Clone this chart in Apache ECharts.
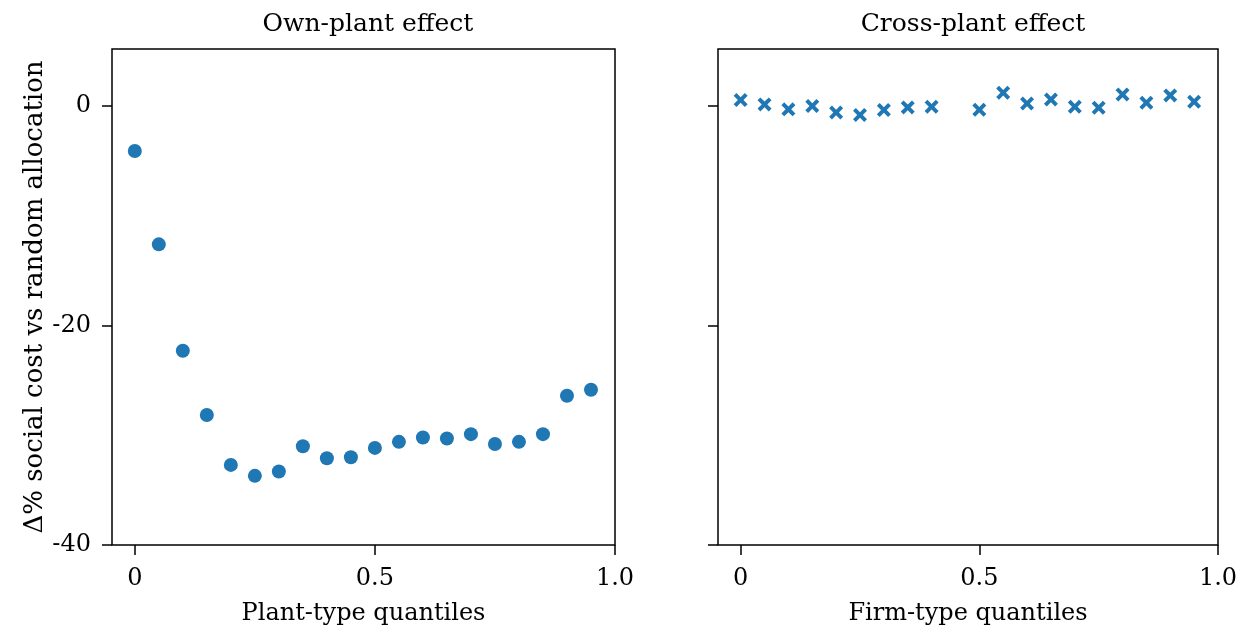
<!DOCTYPE html>
<html>
<head>
    <meta charset="utf-8">
    <title>Own-plant vs cross-plant effect</title>
    <script src="https://cdn.jsdelivr.net/npm/echarts@6/dist/echarts.min.js"></script>
    <style>
        body { margin: 0; background: #fff; }
    </style>
</head>
<body>
    <div id="main" style="width: 1241px;height:632px;"></div>

    <script type="text/javascript">
        // data
        var quantiles = [0, 0.05, 0.1, 0.15, 0.2, 0.25, 0.3, 0.35, 0.4, 0.45,
                         0.5, 0.55, 0.6, 0.65, 0.7, 0.75, 0.8, 0.85, 0.9, 0.95];
        var ownEffect = [-4.1, -12.6, -22.3, -28.15, -32.7, -33.7, -33.3, -31.0, -32.1, -32.0,
                         -31.15, -30.6, -30.2, -30.3, -29.9, -30.8, -30.6, -29.9, -26.4, -25.85];
        var crossEffect = [0.55, 0.15, -0.3, 0.0, -0.58, -0.82, -0.36, -0.12, -0.06, null,
                           -0.33, 1.21, 0.24, 0.6, -0.06, -0.15, 1.06, 0.3, 0.97, 0.39];
        var xTicks = [0, 0.5, 1];
        var yTicks = [-40, -20, 0];
        var panelTitles = ['Own-plant effect', 'Cross-plant effect'];
        var xNames = ['Plant-type quantiles', 'Firm-type quantiles'];
        var yName = '\u0394% social cost vs random allocation';

        function pairs(ys) {
            var out = [];
            for (var i = 0; i < quantiles.length; i++) {
                if (ys[i] !== null) out.push([quantiles[i], ys[i]]);
            }
            return out;
        }

        var font = 'DejaVu Serif';
        var blue = '#1f77b4';
        // thick x marker
        var crossPath = 'path://M0,2 L2,0 L5,3 L8,0 L10,2 L7,5 L10,8 L8,10 L5,7 L2,10 L0,8 L3,5 Z';

        function xAxis(idx) {
            return {
                type: 'value',
                gridIndex: idx,
                min: -0.0475,
                max: 1.0,
                name: xNames[idx],
                nameLocation: 'middle',
                nameGap: 57,
                nameTextStyle: { fontFamily: font, fontSize: 24, color: '#000' },
                splitLine: { show: false },
                axisLine: { show: false, onZero: false },
                axisTick: { show: true, length: 10, customValues: xTicks, lineStyle: { color: '#000', width: 1.5 } },
                axisLabel: {
                    customValues: xTicks,
                    margin: 22,
                    fontFamily: font, fontSize: 24, color: '#000',
                    formatter: function (v) { return v === 1 ? '1.0' : String(v); }
                }
            };
        }

        function yAxis(idx) {
            return {
                type: 'value',
                gridIndex: idx,
                min: -40,
                max: 5.2,
                name: idx === 0 ? yName : '',
                nameLocation: 'middle',
                nameGap: 61,
                nameTextStyle: { fontFamily: font, fontSize: 26, color: '#000' },
                splitLine: { show: false },
                axisLine: { show: false, onZero: false },
                axisTick: { show: true, length: 10, customValues: yTicks, lineStyle: { color: '#000', width: 1.5 } },
                axisLabel: {
                    show: idx === 0,
                    customValues: yTicks,
                    margin: 21,
                    fontFamily: font, fontSize: 24, color: '#000',
                    formatter: function (v) { return String(v); }
                }
            };
        }

        var myChart = echarts.init(document.getElementById('main'));

        var titleStyle = { fontFamily: font, fontSize: 25, fontWeight: 'normal', color: '#000' };

        var option = {
            animation: false,
            backgroundColor: '#fff',
            title: [
                { text: panelTitles[0], left: 363, top: 7, textAlign: 'center', textStyle: titleStyle },
                { text: panelTitles[1], left: 968, top: 7, textAlign: 'center', textStyle: titleStyle }
            ],
            grid: [
                { left: 112, top: 49, width: 503, height: 496, show: true, borderColor: '#000', borderWidth: 1.5, backgroundColor: 'transparent' },
                { left: 718, top: 49, width: 500, height: 496, show: true, borderColor: '#000', borderWidth: 1.5, backgroundColor: 'transparent' }
            ],
            xAxis: [xAxis(0), xAxis(1)],
            yAxis: [yAxis(0), yAxis(1)],
            series: [
                {
                    name: panelTitles[0],
                    type: 'scatter',
                    xAxisIndex: 0,
                    yAxisIndex: 0,
                    symbol: 'circle',
                    symbolSize: 14,
                    itemStyle: { color: blue, opacity: 1 },
                    data: pairs(ownEffect)
                },
                {
                    name: panelTitles[1],
                    type: 'scatter',
                    xAxisIndex: 1,
                    yAxisIndex: 1,
                    symbol: crossPath,
                    symbolSize: 14,
                    itemStyle: { color: blue, opacity: 1 },
                    data: pairs(crossEffect)
                }
            ]
        };

        myChart.setOption(option);
    </script>
</body>
</html>
